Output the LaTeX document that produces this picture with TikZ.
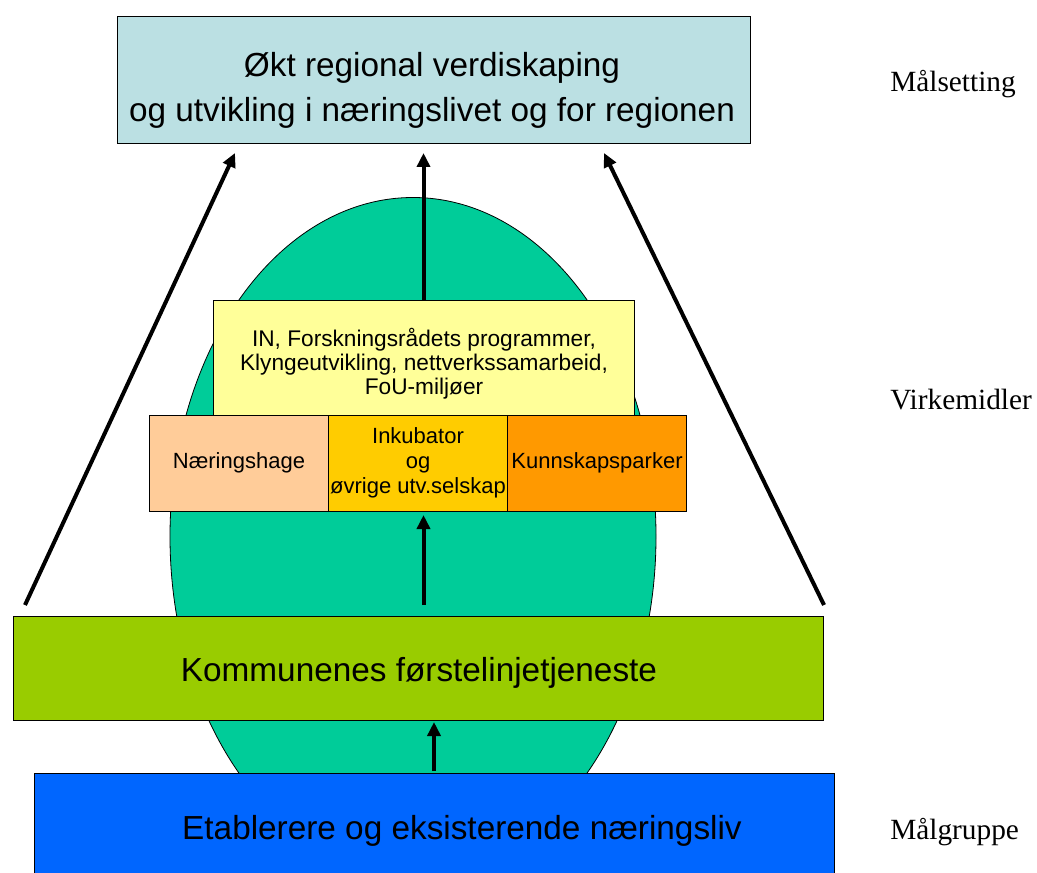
\documentclass[tikz,border=0pt]{standalone}
\usepackage{fontspec}
\setmainfont{Liberation Sans}
\newfontfamily\labelfont{Liberation Serif}
\usepackage{tikz}
\usetikzlibrary{positioning, shapes.geometric, arrows.meta}
\definecolor{goalblue}{HTML}{BBE0E3}
\definecolor{progyellow}{HTML}{FFFF99}
\definecolor{hagepeach}{HTML}{FFCC99}
\definecolor{inkgold}{HTML}{FFCC00}
\definecolor{parkorange}{HTML}{FF9900}
\definecolor{kommgreen}{HTML}{99CC00}
\definecolor{etabblue}{HTML}{0066FF}
\definecolor{ovalgreen}{HTML}{00CC99}
\tikzstyle{box}=[rectangle, draw=black, line width=0.6pt, inner sep=0pt, outer sep=0pt, align=center]
\tikzstyle{boxtext}=[inner sep=0pt, align=center]
\tikzstyle{bigtext}=[font=\fontsize{25}{33.75}\selectfont]
\tikzstyle{smalltext}=[font=\fontsize{16.5}{18.75}\selectfont]
\tikzstyle{arrow}=[line width=3pt, -{Triangle[length=10.5pt, width=9.75pt]}]
\tikzstyle{levellabel}=[anchor=west, inner sep=0pt, font=\labelfont\fontsize{22}{26}\selectfont]

\begin{document}
\begin{tikzpicture}[x=0.75pt, y=-0.75pt]
    \useasboundingbox (0,0) rectangle (1037,873);
	% Oval behind
	\node[ellipse, draw=black, line width=0.6pt, fill=ovalgreen,
	  minimum width=364.5pt, minimum height=508.5pt] (oval) at (413,536.5) {};

	% Boxes
	\node[box, fill=goalblue, minimum width=474.75pt, minimum height=95.25pt] (goal) at (433.5,79.5) {};
	\node[boxtext, bigtext] (goaltext) at (432,90)
	  {Økt regional verdiskaping\\og utvikling i næringslivet og for regionen};
	\node[box, fill=progyellow, minimum width=315.75pt, minimum height=86.25pt] (programs) at (423.5,357.5) {};
	\node[boxtext, font=\fontsize{17}{18}\selectfont] (progtext) at (424,364)
	  {IN, Forskningsrådets programmer,\\Klyngeutvikling, nettverkssamarbeid,\\FoU-miljøer};
	\node[box, smalltext, fill=hagepeach, minimum width=134.25pt, minimum height=72pt] (hage) at (239,463) {Næringshage};
	\node[box, smalltext, fill=inkgold, minimum width=134.25pt, minimum height=72pt, right=0pt of hage] (inkubator)
	  {Inkubator\\og\\øvrige utv.selskap};
	\node[box, smalltext, fill=parkorange, minimum width=134.25pt, minimum height=72pt, right=0pt of inkubator] (parker)
	  {Kunnskapsparker};
	\node[box, fill=kommgreen, minimum width=607.5pt, minimum height=78pt] (kommune) at (418,668) {};
	\node[boxtext, bigtext] (kommtext) at (419,673) {Kommunenes førstelinjetjeneste};
	\node[box, fill=etabblue, minimum width=600pt, minimum height=77.25pt] (etab) at (434,824.5) {};
	\node[boxtext, bigtext] (etabtext) at (462,831) {Etablerere og eksisterende næringsliv};

	% Level labels
	\node[levellabel] (maal) at (890,84) {Målsetting};
	\node[levellabel] (virke) at (890,400) {Virkemidler};
	\node[levellabel] (gruppe) at (890,832) {Målgruppe};

	% Arrow ends
	\coordinate (leftfoot) at (25,605);
	\coordinate (lefthead) at (235,153);
	\coordinate (rightfoot) at (824,605);
	\coordinate (righthead) at (604,153);

	% Arrows
	\draw[arrow] (leftfoot) -- (lefthead);
	\draw[arrow] (rightfoot) -- (righthead);
	\draw[arrow, shorten >=7.5pt] (programs.north) -- (goal.south -| programs.north);
	\draw[arrow, shorten <=8.25pt, shorten >=3pt] (kommune.north -| programs.south) -- (inkubator.south -| programs.south);
	\draw[arrow, shorten <=1.5pt, shorten >=1.5pt] (etab.north) -- (kommune.south -| etab.north);
\end{tikzpicture}
\end{document}
